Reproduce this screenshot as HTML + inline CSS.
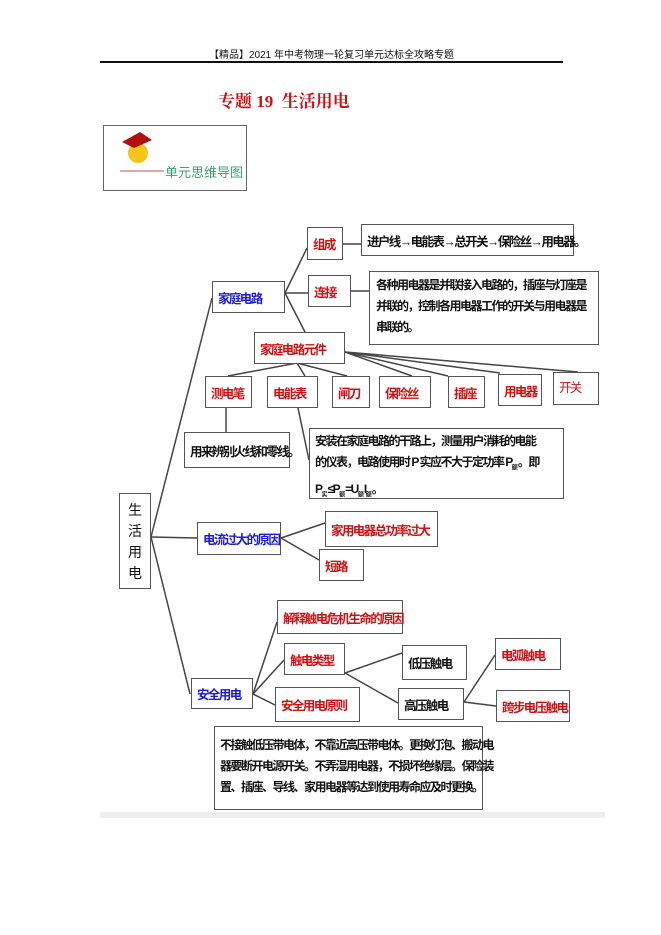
<!DOCTYPE html>
<html><head><meta charset="utf-8"><style>
body{margin:0;width:661px;height:935px;background:#fff;position:relative;overflow:hidden;font-family:"Liberation Serif","Noto Serif CJK SC","Noto Sans CJK SC",serif}
.b{position:absolute;border:1.5px solid #555;box-sizing:border-box;background:#fff;font-size:12.5px;display:flex;align-items:center;padding-left:5px;white-space:nowrap;font-family:"Liberation Sans","Noto Sans CJK SC",sans-serif;font-weight:bold;letter-spacing:-1.6px}
.r{color:#d01010}.u{color:#1a1ae0}.k{color:#111}
.t{position:absolute;font-size:12px;line-height:21px;color:#111;font-family:"Liberation Sans","Noto Sans CJK SC",sans-serif;font-weight:bold;letter-spacing:-1.5px;white-space:nowrap}
sub{font-size:6px;letter-spacing:0}
</style></head><body>
<div style="position:absolute;left:100px;top:46px;width:463px;text-align:center;font-size:10px;font-family:'Liberation Sans','Noto Sans CJK SC',sans-serif;color:#111">【精品】2021 年中考物理一轮复习单元达标全攻略专题</div>
<div style="position:absolute;left:100px;top:61px;width:463px;height:1.5px;background:#111"></div>
<div style="position:absolute;left:218px;top:87px;font-size:17px;font-weight:bold;color:#d01010;font-family:'Liberation Serif','Noto Serif CJK SC',serif">专题 19&nbsp; 生活用电</div>
<div style="position:absolute;left:103px;top:125px;width:144px;height:66px;border:1px solid #666;box-sizing:border-box"></div>
<svg style="position:absolute;left:0;top:0" width="661" height="935">
<circle cx="138" cy="153" r="10" fill="#f5c518"/>
<polygon points="122,142 140,132 152,140 134,148" fill="#b01010"/>
<line x1="120" y1="171" x2="164" y2="171" stroke="#c05050" stroke-width="1"/>
<g stroke="#444" stroke-width="1.5" fill="none">
<line x1="151" y1="537" x2="212" y2="298"/>
<line x1="151" y1="537" x2="197" y2="538"/>
<line x1="151" y1="537" x2="190" y2="694"/>
<line x1="285" y1="293" x2="307" y2="248"/>
<line x1="285" y1="293" x2="308" y2="293"/>
<line x1="285" y1="293" x2="305" y2="332"/>
<line x1="343" y1="244" x2="361" y2="244"/>
<line x1="351" y1="291" x2="369" y2="291"/>
<line x1="297" y1="363" x2="228" y2="376"/>
<line x1="297" y1="363" x2="305" y2="376"/>
<line x1="297" y1="363" x2="347" y2="376"/>
<line x1="345" y1="352" x2="412" y2="376"/>
<line x1="345" y1="352" x2="448" y2="376"/>
<line x1="345" y1="352" x2="500" y2="373"/>
<line x1="345" y1="352" x2="578" y2="372"/>
<line x1="226" y1="408" x2="226" y2="432"/>
<line x1="298" y1="408" x2="309" y2="460"/>
<line x1="281" y1="538" x2="325" y2="523"/>
<line x1="281" y1="538" x2="319" y2="560"/>
<line x1="253" y1="694" x2="277" y2="622"/>
<line x1="253" y1="694" x2="284" y2="660"/>
<line x1="253" y1="694" x2="275" y2="705"/>
<line x1="345" y1="673" x2="402" y2="653"/>
<line x1="345" y1="673" x2="398" y2="703"/>
<line x1="464" y1="702" x2="495" y2="655"/>
<line x1="464" y1="702" x2="496" y2="706"/>
</g>
<rect x="100" y="812" width="505" height="6" fill="#eee"/>
</svg>
<div style="position:absolute;left:165px;top:162px;font-size:13px;color:#3aa070;font-family:'Liberation Sans','Noto Sans CJK SC',sans-serif">单元思维导图</div>

<div class="b r" style="left:307px;top:227px;width:36px;height:33px">组成</div>
<div class="b k" style="left:361px;top:224px;width:213px;height:32px">进户线→电能表→总开关→保险丝→用电器。</div>
<div class="b u" style="left:212px;top:281px;width:73px;height:32px">家庭电路</div>
<div class="b r" style="left:308px;top:275px;width:43px;height:32px">连接</div>
<div class="b" style="left:369px;top:271px;width:230px;height:74px;padding:0"><div class="t" style="left:6px;top:3px">各种用电器是并联接入电路的，插座与灯座是<br>并联的，控制各用电器工作的开关与用电器是<br>串联的。</div></div>
<div class="b r" style="left:254px;top:332px;width:91px;height:32px">家庭电路元件</div>
<div class="b r" style="left:205px;top:376px;width:47px;height:32px">测电笔</div>
<div class="b r" style="left:267px;top:376px;width:51px;height:32px">电能表</div>
<div class="b r" style="left:332px;top:376px;width:38px;height:32px">闸刀</div>
<div class="b r" style="left:379px;top:376px;width:52px;height:32px">保险丝</div>
<div class="b r" style="left:448px;top:376px;width:37px;height:32px">插座</div>
<div class="b r" style="left:498px;top:374px;width:44px;height:32px">用电器</div>
<div class="b r" style="left:553px;top:372px;width:46px;height:33px;align-items:flex-start;padding-top:4px;font-weight:normal">开关</div>
<div class="b k" style="left:184px;top:432px;width:106px;height:36px">用来辨别火线和零线。</div>
<div class="b" style="left:309px;top:428px;width:255px;height:71px;padding:0"><div class="t" style="left:5px;top:2px">安装在家庭电路的干路上，测量用户消耗的电能<br>的仪表，电路使用时 P 实应不大于定功率 P<sub>额</sub>。即<br>P<sub>实</sub>≤P<sub>额</sub>=U<sub>额</sub>I<sub>额</sub>。</div></div>
<div class="b k" style="left:119px;top:493px;width:32px;height:96px;flex-direction:column;justify-content:space-around;padding:5px 0;font-weight:normal;font-size:14px;letter-spacing:0">
<span>生</span><span>活</span><span>用</span><span>电</span></div>
<div class="b u" style="left:197px;top:522px;width:84px;height:33px">电流过大的原因</div>
<div class="b r" style="left:325px;top:511px;width:113px;height:36px">家用电器总功率过大</div>
<div class="b r" style="left:319px;top:549px;width:45px;height:32px">短路</div>
<div class="b r" style="left:277px;top:600px;width:126px;height:34px">解释触电危机生命的原因</div>
<div class="b r" style="left:284px;top:643px;width:61px;height:32px">触电类型</div>
<div class="b u" style="left:191px;top:678px;width:62px;height:31px">安全用电</div>
<div class="b r" style="left:275px;top:687px;width:85px;height:35px">安全用电原则</div>
<div class="b k" style="left:402px;top:645px;width:65px;height:35px">低压触电</div>
<div class="b k" style="left:398px;top:688px;width:66px;height:32px">高压触电</div>
<div class="b r" style="left:495px;top:638px;width:66px;height:32px">电弧触电</div>
<div class="b r" style="left:496px;top:690px;width:74px;height:32px">跨步电压触电</div>
<div class="b" style="left:214px;top:726px;width:269px;height:84px;padding:0"><div class="t" style="left:5px;top:8px">不接触低压带电体，不靠近高压带电体。更换灯泡、搬动电<br>器要断开电源开关。不弄湿用电器，不损坏绝缘层。保险装<br>置、插座、导线、家用电器等达到使用寿命应及时更换。</div></div>
</body></html>
